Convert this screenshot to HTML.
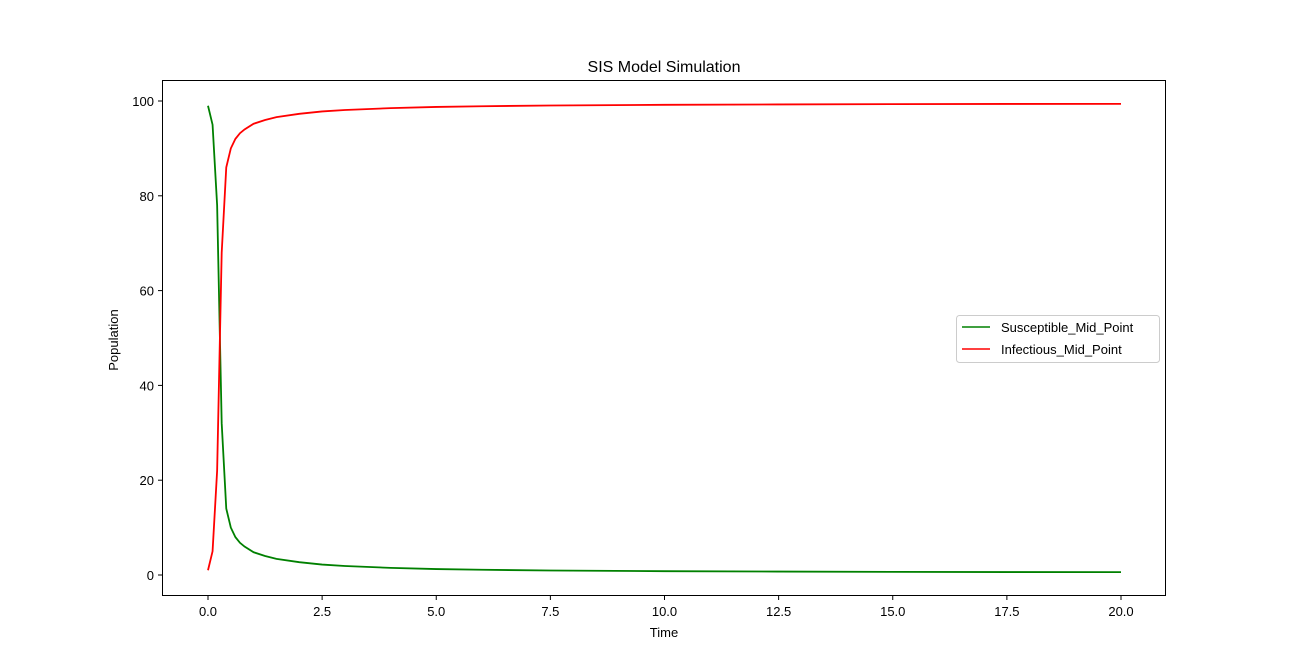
<!DOCTYPE html>
<html><head><meta charset="utf-8"><style>body{margin:0;background:#fff}svg{display:block;font-family:"Liberation Sans","DejaVu Sans",sans-serif}</style></head>
<body>
<svg id="chart" width="1296" height="670">
<rect width="1296" height="670" fill="#fff"/>
<text x="664" y="72" font-size="16" text-anchor="middle">SIS Model Simulation</text>
<g id="plot"></g>
<rect x="162.5" y="80.5" width="1003" height="515" fill="none" stroke="#000" stroke-width="1"/>
<text x="664" y="637" font-size="13" text-anchor="middle">Time</text>
<text x="118" y="340" font-size="13" text-anchor="middle" transform="rotate(-90 118 340)">Population</text>
<g>
<rect x="956.5" y="315.5" width="203" height="47" rx="3" fill="#fff" stroke="#ccc"/>
<line x1="962" y1="327" x2="990" y2="327" stroke="green" stroke-width="1.5"/>
<text x="1001" y="332" font-size="13">Susceptible_Mid_Point</text>
<line x1="962" y1="349" x2="990" y2="349" stroke="red" stroke-width="1.5"/>
<text x="1001" y="354" font-size="13">Infectious_Mid_Point</text>
</g>
</svg>
<script>
const times=[0,0.1,0.2,0.3,0.4,0.5,0.6,0.7,0.8,1.0,1.25,1.5,2,2.5,3,4,5,6,7.5,10,12.5,15,17.5,20];
const susceptible=[99,95,78,32,14,10,8,6.8,6,4.8,4,3.4,2.7,2.2,1.9,1.5,1.25,1.1,0.95,0.8,0.72,0.66,0.62,0.6];
const infectious=[1,5,22,68,86,90,92,93.2,94,95.2,96,96.6,97.3,97.8,98.1,98.5,98.75,98.9,99.05,99.2,99.28,99.34,99.38,99.4];
const xTicks=[0,2.5,5,7.5,10,12.5,15,17.5,20];
const xTickLabels=["0.0","2.5","5.0","7.5","10.0","12.5","15.0","17.5","20.0"];
const yTicks=[0,20,40,60,80,100];
const yTickLabels=["0","20","40","60","80","100"];
const X=v=>208+v*(1121-208)/20;
const Y=v=>575-v*(575-101)/100;
const NS="http://www.w3.org/2000/svg";
const g=document.getElementById('plot');
function mk(t,a){const e=document.createElementNS(NS,t);for(const k in a)e.setAttribute(k,a[k]);g.appendChild(e);return e;}
xTicks.forEach((v,i)=>{
 const l=mk('line',{x1:X(v),x2:X(v),y1:596,y2:600,stroke:'#000'});
 
 
 const t=mk('text',{x:X(v),y:616,'font-size':13,'text-anchor':'middle'});t.textContent=xTickLabels[i];
 
 
});
yTicks.forEach((v,i)=>{
 const l=mk('line',{x1:158,x2:162,y1:Y(v),y2:Y(v),stroke:'#000'});
 
 
 const t=mk('text',{x:154,y:Y(v)+5,'font-size':13,'text-anchor':'end'});t.textContent=yTickLabels[i];
 
 
});
function line(vals,color,name){
 const p=mk('polyline',{points:times.map((t,i)=>X(t)+','+Y(vals[i])).join(' '),fill:'none',stroke:color,'stroke-width':1.8});
 
 
}
line(susceptible,'green','susceptible-line');
line(infectious,'red','infectious-line');
</script>
</body></html>
